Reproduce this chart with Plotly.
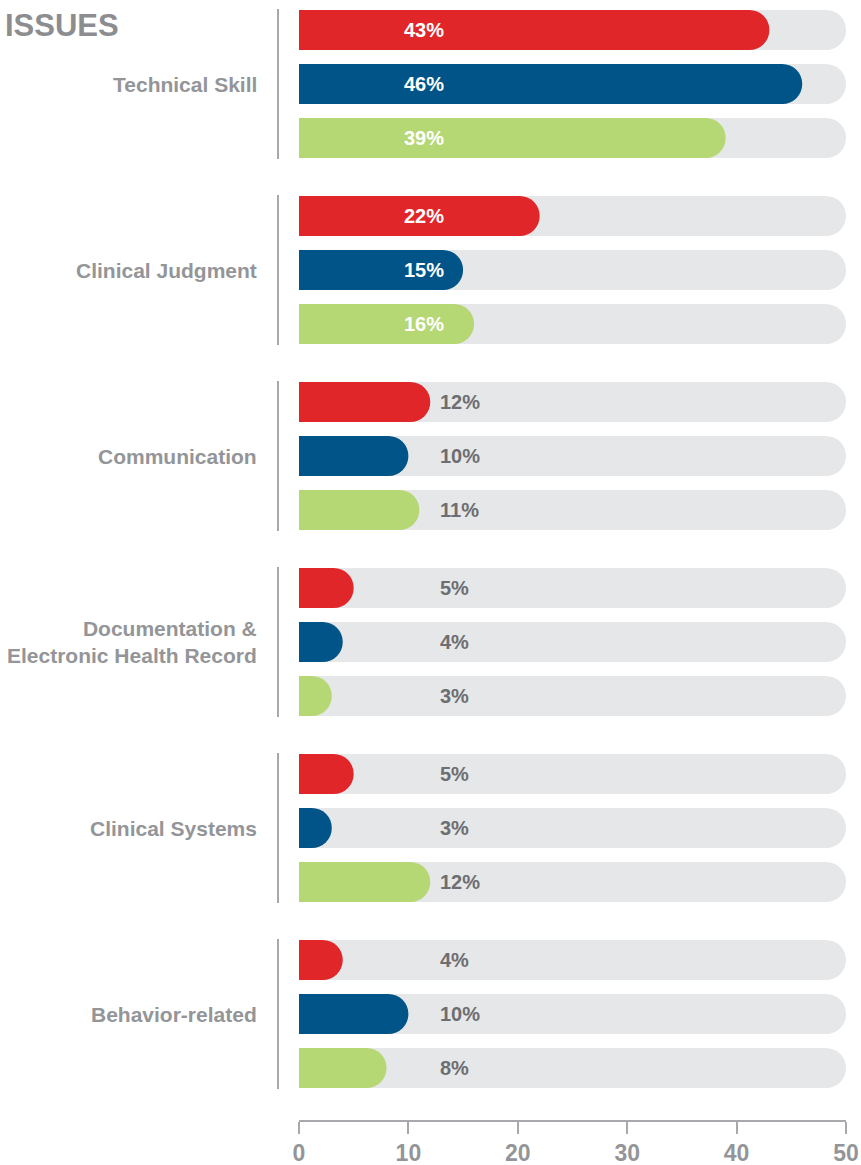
import plotly.graph_objects as go

categories = ["Technical Skill", "Clinical Judgment", "Communication",
              "Documentation &<br>Electronic Health Record", "Clinical Systems", "Behavior-related"]
series_red = [43, 22, 12, 5, 5, 4]
series_blue = [46, 15, 10, 4, 3, 10]
series_green = [39, 16, 11, 3, 12, 8]
axis_max = 50
tick_vals = [0, 10, 20, 30, 40, 50]

colors = ["#E1262A", "#005487", "#B5D774"]
bg_color = "#E6E7E8"
label_grey = "#939598"
value_grey = "#6D6E71"
SANS = "Liberation Sans, Arial, sans-serif"

GROUP_STEP = 186 / 54.0
BAR_W = 40 / 54.0
series = [series_red, series_blue, series_green]
YRANGE = [(1120 - 30) / 54.0, -30 / 54.0]

fig = go.Figure()

all_y = []
for g in range(len(categories)):
    for s in range(3):
        all_y.append(g * GROUP_STEP + s)

fig.add_trace(go.Bar(
    x=[axis_max] * len(all_y), y=all_y, orientation="h", width=BAR_W, yaxis="y",
    marker=dict(color=bg_color, line=dict(width=0), cornerradius=20),
    hoverinfo="skip", showlegend=False))

for s, vals in enumerate(series):
    ys = [g * GROUP_STEP + s for g in range(len(categories))]
    fig.add_trace(go.Bar(
        x=vals, y=ys, orientation="h", width=BAR_W, yaxis="y2",
        marker=dict(color=colors[s], line=dict(width=0), cornerradius=20), showlegend=False))
    for v, y in zip(vals, ys):
        if v > 13:
            fig.add_annotation(x=11.45, y=y, xref="x", yref="y", text=f"<b>{v}%</b>",
                               showarrow=False, xanchor="center", yanchor="middle",
                               font=dict(family=SANS, size=20, color="white"))
        else:
            fig.add_annotation(x=12.75, y=y, xref="x", yref="y", text=f"<b>{v}%</b>",
                               showarrow=False, xanchor="left", yanchor="middle",
                               font=dict(family=SANS, size=20, color=value_grey))

PLOT_W = 861 - 299 - 15
for g, cat in enumerate(categories):
    yc = g * GROUP_STEP + 1
    fig.add_annotation(x=0, y=yc, xref="paper", yref="y", xshift=-40, text=f"<b>{cat}</b>",
                       showarrow=False, xanchor="right", yanchor="middle", align="right",
                       font=dict(family=SANS, size=21, color=label_grey))
    fig.add_shape(type="line", xref="paper", yref="y",
                  x0=-21 / PLOT_W, x1=-21 / PLOT_W,
                  y0=g * GROUP_STEP - BAR_W / 2 - 0.02, y1=g * GROUP_STEP + 2 + BAR_W / 2 + 0.02,
                  line=dict(color="#A7A9AC", width=2))

fig.add_annotation(x=-296 / PLOT_W, y=1, xref="paper", yref="paper", yshift=-6,
                   text="<b>ISSUES</b>", showarrow=False, xanchor="left", yanchor="top",
                   font=dict(family=SANS, size=31, color="#8C8D90"))

fig.update_layout(
    width=861, height=1165,
    margin=dict(l=299, r=15, t=0, b=45),
    paper_bgcolor="white", plot_bgcolor="white",
    barmode="overlay",
    xaxis=dict(range=[0, axis_max], tickvals=tick_vals, showgrid=False, zeroline=False,
               showline=True, linecolor="#A7A9AC", linewidth=1.5,
               ticks="outside", ticklen=12, tickcolor="#A7A9AC", tickwidth=1.5,
               tickfont=dict(family=SANS, size=23, color=label_grey, weight="bold")),
    yaxis=dict(range=YRANGE, showgrid=False, zeroline=False,
               showticklabels=False, showline=False),
    yaxis2=dict(range=YRANGE, overlaying="y", showgrid=False, zeroline=False,
                showticklabels=False, showline=False),
)

fig.write_html("out.html")
